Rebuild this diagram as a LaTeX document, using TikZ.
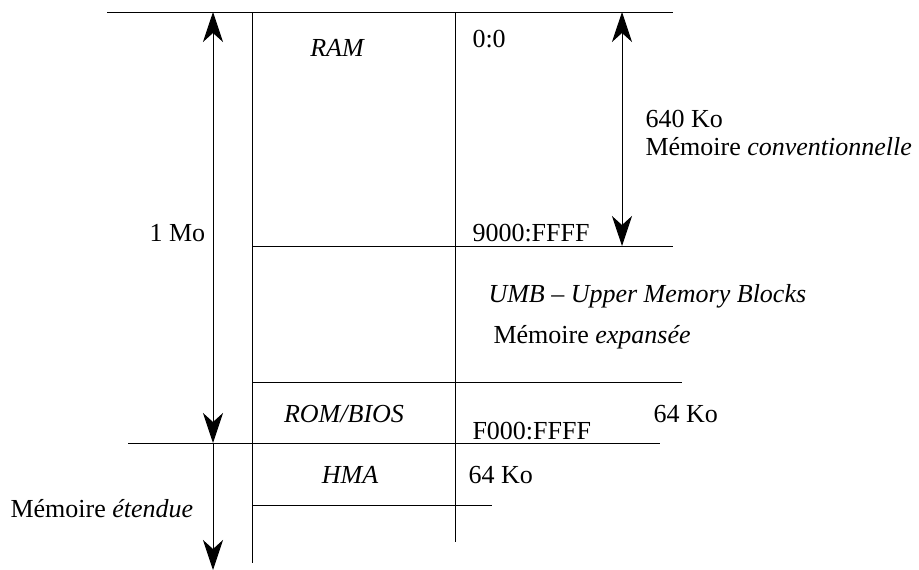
\documentclass[tikz,border=0pt]{standalone}
\usepackage{fontspec}
\setmainfont{Liberation Serif}
\usetikzlibrary{arrows.meta}
\begin{document}
\begin{tikzpicture}[x=1pt,y=-1pt,line width=1pt,
  lbl/.style={anchor=base west,inner sep=0pt,font=\fontsize{26}{30}\selectfont},
  lblc/.style={anchor=base,inner sep=0pt,font=\fontsize{26}{30}\selectfont\itshape},
  dimarrow/.style={line width=0.9pt,{Stealth[length=30pt,width=20pt,inset=9pt]}-{Stealth[length=30pt,width=20pt,inset=9pt]}},
  downarrow/.style={line width=0.9pt,-{Stealth[length=30pt,width=20pt,inset=9pt]}}]
\useasboundingbox (0,0) rectangle (919,570);
% frame coordinates
\coordinate (topL) at (107,12);
\coordinate (topR) at (673,12);
\coordinate (vaT) at (252,12);
\coordinate (vaB) at (252,563);
\coordinate (vbT) at (455,12);
\coordinate (vbB) at (455,542);
\coordinate (h1L) at (252,246);
\coordinate (h1R) at (673,246);
\coordinate (h2L) at (252,382);
\coordinate (h2R) at (682,382);
\coordinate (h3L) at (128,443);
\coordinate (h3R) at (660,443);
\coordinate (h4L) at (252,505);
\coordinate (h4R) at (492,505);
\coordinate (aT) at (213,12);
\coordinate (aM) at (213,443);
\coordinate (aB) at (213,570);
\coordinate (cT) at (622,12);
\coordinate (cB) at (622,246);
% lines
\draw (topL) -- (topR);
\draw (vaT) -- (vaB);
\draw (vbT) -- (vbB);
\draw (h1L) -- (h1R);
\draw (h2L) -- (h2R);
\draw (h3L) -- (h3R);
\draw (h4L) -- (h4R);
% arrows
\draw[dimarrow] (aT) -- (aM);
\draw[downarrow] (aM) -- (aB);
\draw[dimarrow] (cT) -- (cB);
% labels
\node[lblc] (ram) at (337,56) {RAM};
\node[lbl] (a00) at (472,47) {0:0};
\node[lbl] (k640) at (645,127) {640 Ko};
\node[lbl] (conv) at (645,155) {Mémoire \textit{conventionnelle}};
\node[lbl] (mo1) at (149,241) {1 Mo};
\node[lbl] (a9000) at (472,241) {9000:FFFF};
\node[lbl] (umb) at (488,302) {\textit{UMB – Upper Memory Blocks}};
\node[lbl] (exp) at (493,343) {Mémoire \textit{expansée}};
\node[lblc] (rom) at (344,422) {ROM/BIOS};
\node[lbl] (k64a) at (653,422) {64 Ko};
\node[lbl] (af000) at (472,439) {F000:FFFF};
\node[lblc] (hma) at (350,483) {HMA};
\node[lbl] (k64b) at (468,483) {64 Ko};
\node[lbl] (ext) at (10,517) {Mémoire \textit{étendue}};
\end{tikzpicture}
\end{document}
